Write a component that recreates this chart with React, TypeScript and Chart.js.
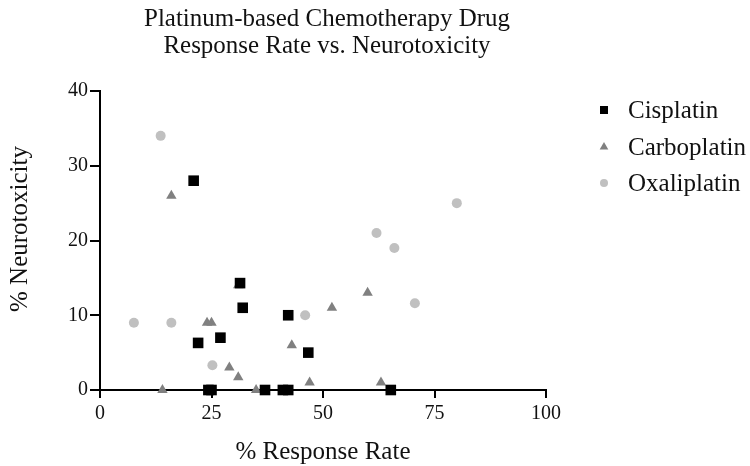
import React, { useEffect, useRef } from "react";
import { Chart, registerables } from "chart.js";

Chart.register(...registerables);

const titleLines = ["Platinum-based Chemotherapy Drug", "Response Rate vs. Neurotoxicity"];
const xAxisTitle = "% Response Rate";
const yAxisTitle = "% Neurotoxicity";

const seriesNames = ["Cisplatin", "Carboplatin", "Oxaliplatin"];

const cisplatinX = [21, 31.4, 32, 22, 27, 42.2, 24.3, 25, 37, 41, 42.2, 46.7, 65.2];
const cisplatinY = [28, 14.3, 11, 6.3, 7, 10, 0, 0, 0, 0, 0, 5, 0];

const carboplatinX = [16, 24, 25, 29, 31, 35, 14, 43, 47, 52, 60, 63, 31];
const carboplatinY = [26, 9, 9, 3, 1.7, 0, 0, 6, 1, 11, 13, 1, 14];

const oxaliplatinX = [13.6, 7.6, 16, 25.2, 46, 62, 66, 70.6, 80];
const oxaliplatinY = [34, 9, 9, 3.3, 10, 21, 19, 11.6, 25];

const xTicks = [0, 25, 50, 75, 100];
const yTicks = [0, 10, 20, 30, 40];

const colors = ["#000000", "#808080", "#c0c0c0"];
const styles = ["rect", "triangle", "circle"];

const FONT = "'Liberation Serif', 'Times New Roman', serif";

function toPoints(xs: number[], ys: number[]) {
  return xs.map((x, i) => ({ x, y: ys[i] }));
}

const overlayPlugin = {
  id: "overlay",
  afterDraw(chart: any) {
    const ctx = chart.ctx;
    const area = chart.chartArea;
    const cx = (area.left + area.right) / 2;
    ctx.save();
    ctx.fillStyle = "#111";
    ctx.textAlign = "center";
    ctx.textBaseline = "middle";
    ctx.font = `26px ${FONT}`;
    ctx.save();
    ctx.translate(cx + 4, 0);
    ctx.scale(0.96, 1);
    ctx.fillText(titleLines[0], 0, 19);
    ctx.fillText(titleLines[1], 0, 46);
    ctx.restore();

    ctx.font = `25px ${FONT}`;
    ctx.fillText(xAxisTitle, cx, 452);

    ctx.save();
    ctx.translate(20, 229);
    ctx.rotate(-Math.PI / 2);
    ctx.fillText(yAxisTitle, 0, 0);
    ctx.restore();

    // legend
    const lx = 604;
    const rows = [110, 147, 183];
    ctx.textAlign = "left";
    ctx.font = `25px ${FONT}`;
    seriesNames.forEach((name, i) => {
      const y = rows[i];
      ctx.fillStyle = colors[i];
      ctx.beginPath();
      if (i === 0) {
        ctx.rect(lx - 4, y - 4, 8, 8);
      } else if (i === 1) {
        const r = 5;
        ctx.moveTo(lx, y - r);
        ctx.lineTo(lx + r * 0.866, y + r / 2);
        ctx.lineTo(lx - r * 0.866, y + r / 2);
        ctx.closePath();
      } else {
        ctx.arc(lx, y, 4, 0, Math.PI * 2);
      }
      ctx.fill();
      ctx.fillStyle = "#111";
      ctx.fillText(name, 628, y + 1);
    });
    ctx.restore();
  },
};

export default function App() {
  const ref = useRef<HTMLCanvasElement | null>(null);
  useEffect(() => {
    if (!ref.current) return;
    const datasets = [
      { label: seriesNames[0], data: toPoints(cisplatinX, cisplatinY), pointRadius: 7.5 },
      { label: seriesNames[1], data: toPoints(carboplatinX, carboplatinY), pointRadius: 6 },
      { label: seriesNames[2], data: toPoints(oxaliplatinX, oxaliplatinY), pointRadius: 5 },
    ].map((d, i) => ({
      ...d,
      pointStyle: styles[i],
      backgroundColor: colors[i],
      borderColor: colors[i],
      borderWidth: 0,
      pointBorderWidth: 0,
      clip: false as any,
    }));
    const chart = new Chart(ref.current, {
      type: "scatter",
      data: { datasets: datasets as any },
      options: {
        responsive: false,
        animation: false,
        layout: { padding: { top: 91, right: 204, left: 0, bottom: 0 } },
        plugins: {
          legend: { display: false },
          title: { display: false },
          tooltip: { enabled: false },
        },
        scales: {
          x: {
            type: "linear",
            min: 0,
            max: 100,
            afterBuildTicks: (scale: any) => {
              scale.ticks = xTicks.map((v) => ({ value: v }));
            },
            afterFit: (scale: any) => {
              scale.height = 76;
            },
            border: { display: true, color: "#000", width: 2 },
            grid: { display: true, drawOnChartArea: false, drawTicks: true, tickLength: 8, color: "#000", lineWidth: 2 },
            ticks: { color: "#111", font: { family: FONT, size: 20 }, padding: 4, maxRotation: 0 },
          },
          y: {
            type: "linear",
            min: 0,
            max: 40,
            afterBuildTicks: (scale: any) => {
              scale.ticks = yTicks.map((v) => ({ value: v }));
            },
            afterFit: (scale: any) => {
              scale.width = 100;
            },
            border: { display: true, color: "#000", width: 2 },
            grid: { display: true, drawOnChartArea: false, drawTicks: true, tickLength: 10, color: "#000", lineWidth: 2 },
            ticks: { color: "#111", font: { family: FONT, size: 20 }, padding: 2 },
          },
        },
      },
      plugins: [overlayPlugin],
    });
    return () => chart.destroy();
  }, []);
  return (
    <div style={{ position: "absolute", left: 0, top: 0, width: 750, height: 466, background: "#fff" }}>
      <canvas ref={ref} width={750} height={466} />
    </div>
  );
}
